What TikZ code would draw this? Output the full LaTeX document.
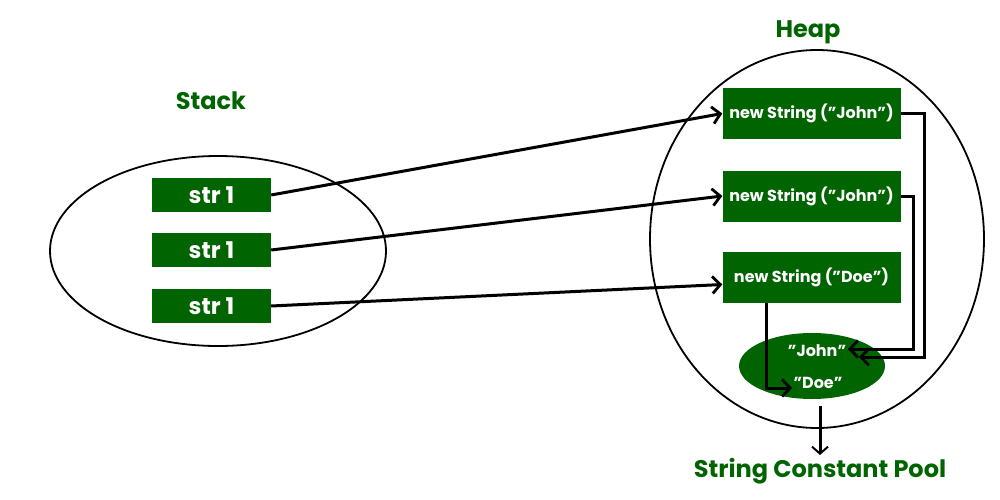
\documentclass[tikz,border=0pt]{standalone}
\usepackage{fontspec}
\setmainfont{Poppins}
\usetikzlibrary{arrows.meta,shapes.geometric}
\definecolor{gg}{RGB}{0,100,0}
\begin{document}
\begin{tikzpicture}[x=1pt,y=-1pt,
  box/.style={draw=none,fill=gg,text=white,font=\bfseries\fontsize{16}{18}\selectfont,inner sep=0pt},
  sbox/.style={box,minimum width=119pt,minimum height=34pt,font=\bfseries\fontsize{23}{25}\selectfont},
  hbox/.style={box,minimum width=178pt,minimum height=51pt},
  title/.style={text=gg,font=\bfseries\fontsize{24}{27}\selectfont},
  conn/.style={line width=3pt,-{Straight Barb[length=8pt,width=17pt,line width=2.8pt]}},
  oval/.style={draw,line width=1.8pt}]
\useasboundingbox (0,0) rectangle (1000,500);
% ellipses
\node[oval,ellipse,minimum width=336pt,minimum height=190pt] (stack) at (218,251) {};
\node[oval,ellipse,minimum width=334pt,minimum height=378pt] (heap) at (817,239) {};
\node[title] (stacklbl) at (211,101) {Stack};
\node[title] (heaplbl) at (808,32) {Heap};
% stack boxes
\node[sbox] (s1) at (211.5,195) {str 1};
\node[sbox] (s2) at (211.5,250) {str 1};
\node[sbox] (s3) at (211.5,306) {str 1};
% heap boxes
\node[hbox] (h1) at (811.5,113.5) {new String (”John”)};
\node[hbox] (h2) at (811.5,196) {new String (”John”)};
\node[hbox] (h3) at (811.5,277.5) {new String (”Doe”)};
% pool
\node[ellipse,fill=gg,minimum width=146pt,minimum height=66pt,inner sep=0pt] (pool) at (812,366) {};
\node[text=white,font=\bfseries\fontsize{16}{18}\selectfont] (john) at (817,351) {”John”};
\node[text=white,font=\bfseries\fontsize{16}{18}\selectfont] (doe) at (818,383) {”Doe”};
\node[title] (pooltxt) at (820,471) {String Constant Pool};
% coordinates
\coordinate (j1) at (859,357);
\coordinate (j2) at (848,349);
\coordinate (d1) at (792,388);
\coordinate (pa) at (820,406);
\coordinate (pb) at (820,455);
% connectors
\draw[conn] (s1.east) -- (h1.west);
\draw[conn] (s2.east) -- (h2.west);
\draw[conn] (s3.east) -- ([yshift=-7pt]h3.west);
\draw[conn] (h1.east) -| (924,357) -- (j1);
\draw[conn] (h2.east) -| (913,349) -- (j2);
\draw[conn] (h3.south -| 766,0) |- (d1);
\draw[line width=3pt,-{Straight Barb[length=7pt,width=16pt,line width=2pt]}] (pa) -- (pb);
\end{tikzpicture}
\end{document}
